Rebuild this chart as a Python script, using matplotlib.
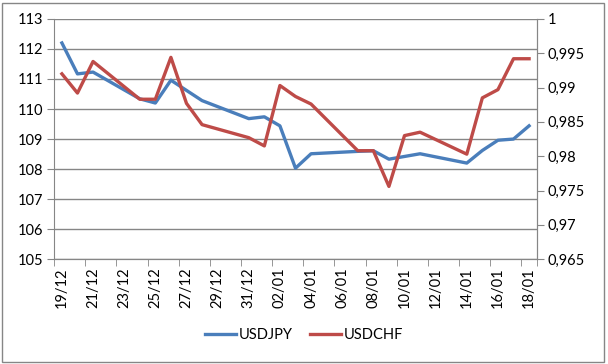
import matplotlib
matplotlib.use('Agg')
import matplotlib.pyplot as plt
import matplotlib.dates as mdates
from matplotlib.patches import Rectangle
import pandas as pd

plt.rcParams['font.family'] = ['Lato', 'DejaVu Sans']

dates = ['2013-12-19', '2013-12-20', '2013-12-21', '2013-12-24', '2013-12-25',
         '2013-12-26', '2013-12-27', '2013-12-28', '2013-12-31', '2014-01-01',
         '2014-01-02', '2014-01-03', '2014-01-04', '2014-01-07', '2014-01-08',
         '2014-01-09', '2014-01-10', '2014-01-11', '2014-01-14', '2014-01-15',
         '2014-01-16', '2014-01-17', '2014-01-18']
usdjpy = [112.20, 111.17, 111.23, 110.34, 110.20, 110.96, 110.62, 110.28,
          109.68, 109.74, 109.44, 108.03, 108.51, 108.59, 108.61, 108.33,
          108.42, 108.51, 108.20, 108.62, 108.96, 109.00, 109.44]
usdchf = [0.9920, 0.9892, 0.9938, 0.9883, 0.9883, 0.9944, 0.9877, 0.9846,
          0.9827, 0.9815, 0.9903, 0.9887, 0.9876, 0.9808, 0.9808, 0.9756,
          0.9830, 0.9835, 0.9803, 0.9885, 0.9897, 0.9942, 0.9942]
left_ticks = [105, 106, 107, 108, 109, 110, 111, 112, 113]
right_ticks = [0.965, 0.97, 0.975, 0.98, 0.985, 0.99, 0.995, 1.0]
right_labels = ['0,965', '0,97', '0,975', '0,98', '0,985', '0,99', '0,995', '1']

x = mdates.date2num(pd.to_datetime(dates))
grey = '#868686'

fig = plt.figure(figsize=(6.08, 3.64), dpi=100)
fig.patches.append(Rectangle((0.004, 0.006), 0.99, 0.986, transform=fig.transFigure,
                             fill=False, edgecolor=grey, linewidth=1))
ax = fig.add_axes([0.089, 0.288, 0.794, 0.66])
ax2 = ax.twinx()

l1, = ax.plot(x, usdjpy, color='#4A7EBB', linewidth=2.4, label='USDJPY')
l2, = ax2.plot(x, usdchf, color='#BE4B48', linewidth=2.4, label='USDCHF')

ax.set_ylim(105, 113)
ax.set_yticks(left_ticks)
ax2.set_ylim(0.965, 1.0)
ax2.set_yticks(right_ticks)
ax2.set_yticklabels(right_labels)

ax.set_xlim(x[0] - 0.5, x[-1] + 0.5)
label_pos = [x[0] + 2 * i for i in range(16)]
ax.set_xticks(label_pos)
ax.set_xticklabels([mdates.num2date(p).strftime('%d/%m') for p in label_pos], rotation=90)
ax.set_xticks([p - 0.5 for p in label_pos] + [x[-1] + 0.5], minor=True)
ax.tick_params(axis='x', which='major', length=0, pad=6)
ax.tick_params(axis='x', which='minor', length=5, color=grey, direction='out')

ax.grid(axis='y', color=grey, linewidth=1)
ax.set_axisbelow(True)
for a in (ax, ax2):
    a.spines['top'].set_visible(False)
    for s in ('left', 'right', 'bottom'):
        a.spines[s].set_color(grey)
    a.tick_params(axis='y', length=5, color=grey, labelsize=10.5, pad=3)
ax.tick_params(axis='x', labelsize=10.5)
ax2.spines['left'].set_visible(False)

fig.legend(handles=[l1, l2], loc='center', bbox_to_anchor=(0.5, 0.08), ncol=2,
           frameon=False, fontsize=10.5, handlelength=2.1, columnspacing=1.2,
           handletextpad=0.2)

fig.savefig('out.png', dpi=100)
